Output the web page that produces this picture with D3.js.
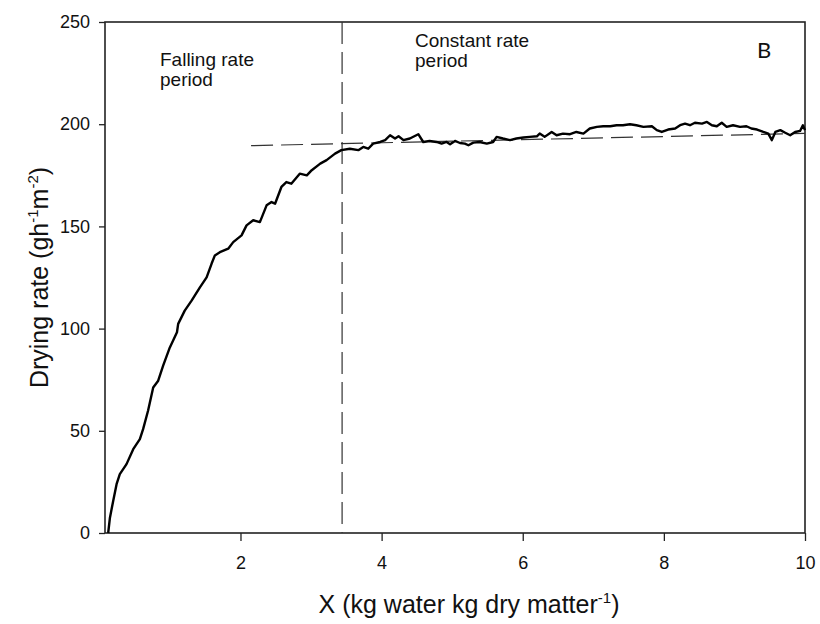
<!DOCTYPE html>
<html>
<head>
<meta charset="utf-8">
<script src="https://cdn.jsdelivr.net/npm/d3@7"></script>
<style>
  body { margin: 0; background: #fff; }
  text { font-family: "Liberation Sans", Arial, sans-serif; fill: #111; }
</style>
</head>
<body>
<div class="canvas"></div>
<script>
// moisture content X (kg water / kg dry matter)
const moisture = [
  0.125, 0.15, 0.196, 0.244, 0.29, 0.385, 0.48, 0.574, 0.62, 0.69, 0.763, 0.834, 0.904, 0.999,
  1.10, 1.117, 1.21, 1.307, 1.425, 1.52, 1.59, 1.637, 1.708, 1.826, 1.897, 2.015, 2.086,
  2.18, 2.275, 2.37, 2.44, 2.49, 2.58, 2.65, 2.72, 2.84, 2.94, 3.01, 3.13, 3.22, 3.34, 3.43,
  3.55, 3.67, 3.74, 3.81, 3.88, 3.98, 4.05, 4.12, 4.19, 4.24, 4.31, 4.40, 4.52, 4.59, 4.68,
  4.78, 4.85, 4.92, 4.97, 5.04, 5.11, 5.18, 5.23, 5.30, 5.39, 5.49, 5.58, 5.63, 5.72, 5.82,
  5.91, 6.01, 6.10, 6.20, 6.24, 6.31, 6.41, 6.48, 6.57, 6.67, 6.76, 6.86, 6.95, 7.05, 7.14,
  7.24, 7.33, 7.42, 7.52, 7.61, 7.71, 7.83, 7.90, 7.97, 8.06, 8.16, 8.23, 8.30, 8.37, 8.44,
  8.54, 8.61, 8.68, 8.75, 8.82, 8.89, 8.98, 9.08, 9.17, 9.24, 9.32, 9.41, 9.48, 9.53, 9.58,
  9.65, 9.72, 9.79, 9.86, 9.93, 9.97, 10.0
]
// drying rate (g h-1 m-2)
const dryingRate = [
  0, 7.5, 15.7, 23.9, 28.8, 33.7, 41, 45.9, 50.8, 59.8, 71.2, 74.5, 81.9, 90.8,
  98.2, 102.3, 108.8, 113.7, 120.2, 125.1, 131.7, 135.8, 137.4, 139.1, 142.3, 145.6, 150.5,
  153, 152.1, 160.3, 161.9, 161.1, 169.3, 171.7, 170.9, 175.8, 175, 177.5, 180.7, 182.4, 185.6, 187.3,
  188, 187.3, 188.9, 188, 190.5, 191.3, 192.2, 194.6, 193, 194.1, 192.2, 193, 195.1, 191.3, 191.8,
  191.3, 190.5, 191.3, 190.2, 191.8, 190.8, 190.5, 189.7, 191, 191.3, 190.5, 191.3, 193.8, 193, 192.2,
  193, 193.5, 193.8, 194.1, 195.4, 193.8, 196.2, 194.6, 195.4, 195.1, 196.2, 195.4, 197.9, 198.7, 199,
  199, 199.5, 199.5, 200, 199.5, 198.7, 199, 197.1, 196.2, 197.4, 197.9, 199.5, 200.3, 199.5, 200.7,
  200.3, 201.1, 199.5, 199, 200.7, 198.7, 199.5, 198.7, 199, 197.9, 197.4, 196.2, 195.4, 192.2, 196.2,
  197.1, 195.8, 194.6, 196.2, 196.7, 199.5, 197.1
]
const xTicks = [2, 4, 6, 8, 10]
const yTicks = [0, 50, 100, 150, 200, 250]
const criticalX = 3.44
const constantLineX = [2.15, 10]
const constantLineY = [189.5, 195.5]

const width = 820, height = 624
const margin = { top: 22, right: 15, bottom: 91, left: 105 }

const svg = d3.select('.canvas').append('svg')
  .attr('width', width)
  .attr('height', height)

const x = d3.scaleLinear().domain([0.08, 10]).range([margin.left, width - margin.right])
const y = d3.scaleLinear().domain([0, 250]).range([height - margin.bottom, margin.top])

// axes
const xAxis = svg.append('g')
  .attr('transform', `translate(0, ${height - margin.bottom})`)
  .call(d3.axisBottom(x).tickValues(xTicks).tickSize(8).tickPadding(15).tickSizeOuter(0))
const yAxis = svg.append('g')
  .attr('transform', `translate(${margin.left}, 0)`)
  .call(d3.axisLeft(y).tickValues(yTicks).tickSize(6).tickPadding(9).tickSizeOuter(0))

;[xAxis, yAxis].forEach(g => {
  g.select('.domain').remove()
  g.selectAll('line').attr('stroke', '#222').attr('stroke-width', 1.3)
  g.selectAll('text').style('font-size', '18px').attr('fill', '#111')
})

// frame
svg.append('rect')
  .attr('x', margin.left).attr('y', margin.top)
  .attr('width', x.range()[1] - margin.left)
  .attr('height', y.range()[0] - margin.top)
  .attr('fill', 'none').attr('stroke', '#222').attr('stroke-width', 1.6)

// dashed guides
svg.append('line')
  .attr('x1', x(criticalX)).attr('x2', x(criticalX))
  .attr('y1', y(250)).attr('y2', y(0))
  .attr('stroke', '#333').attr('stroke-width', 1.2)
  .attr('stroke-dasharray', '22 8')
svg.append('line')
  .attr('x1', x(constantLineX[0])).attr('x2', x(constantLineX[1]))
  .attr('y1', y(constantLineY[0])).attr('y2', y(constantLineY[1]))
  .attr('stroke', '#333').attr('stroke-width', 1.2)
  .attr('stroke-dasharray', '22 8')

// curve
const line = d3.line()
  .x((d, i) => x(moisture[i]))
  .y(d => y(d))
svg.append('path')
  .datum(dryingRate)
  .attr('d', line)
  .attr('fill', 'none')
  .attr('stroke', '#000')
  .attr('stroke-width', 2.4)
  .attr('stroke-linejoin', 'round')

// annotations
const note = svg.append('g').style('font-size', '19px')
note.append('text').attr('x', 160).attr('y', 66).text('Falling rate')
note.append('text').attr('x', 160).attr('y', 86).text('period')
note.append('text').attr('x', 415).attr('y', 47).text('Constant rate')
note.append('text').attr('x', 415).attr('y', 67).text('period')
svg.append('text')
  .attr('x', 757).attr('y', 58)
  .style('font-family', 'Lato, "Open Sans", sans-serif')
  .style('font-size', '22px')
  .text('B')

// axis titles
const xTitle = svg.append('text')
  .attr('x', (x.range()[0] + x.range()[1]) / 2 + 14)
  .attr('y', 613)
  .attr('text-anchor', 'middle')
  .style('font-size', '25px')
xTitle.append('tspan').text('X (kg water kg dry matter')
xTitle.append('tspan').attr('dy', -10).style('font-size', '15px').text('-1')
xTitle.append('tspan').attr('dy', 10).text(')')

const yTitle = svg.append('text')
  .attr('transform', `translate(48, ${(y.range()[0] + y.range()[1]) / 2}) rotate(-90)`)
  .attr('text-anchor', 'middle')
  .style('font-size', '25px')
yTitle.append('tspan').text('Drying rate (gh')
yTitle.append('tspan').attr('dy', -10).style('font-size', '15px').text('-1')
yTitle.append('tspan').attr('dy', 10).text('m')
yTitle.append('tspan').attr('dy', -10).style('font-size', '15px').text('-2')
yTitle.append('tspan').attr('dy', 10).text(')')
</script>
</body>
</html>
